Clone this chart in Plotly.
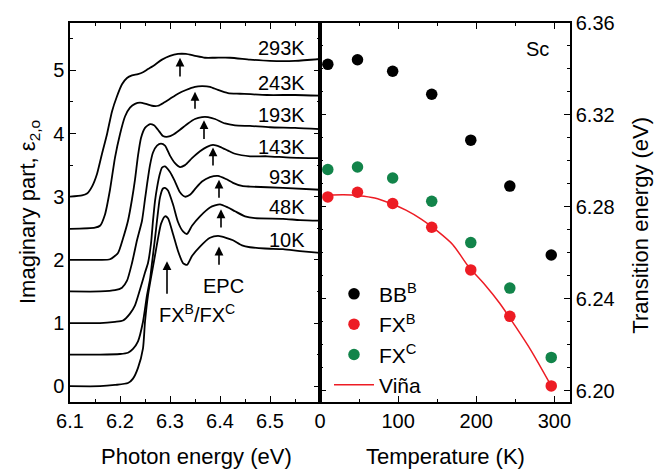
import plotly.graph_objects as go

# ---------------- left panel: eps2 spectra (offset by 0.5 per temperature) ----------------
temps = ["10K", "48K", "93K", "143K", "193K", "243K", "293K"]

e_10 = [6.100, 6.160, 6.190, 6.216, 6.226, 6.236, 6.246, 6.250, 6.256, 6.262, 6.268, 6.276, 6.282,
        6.290, 6.296, 6.306, 6.316, 6.326, 6.334, 6.344, 6.360, 6.380, 6.396, 6.412, 6.426, 6.444,
        6.460, 6.490, 6.526, 6.560, 6.600]
eps_10 = [0.00, 0.00, 0.02, 0.05, 0.12, 0.29, 0.60, 1.02, 1.44, 1.72, 1.98, 2.34, 2.57,
          2.69, 2.66, 2.41, 2.14, 1.95, 1.92, 2.06, 2.21, 2.35, 2.38, 2.35, 2.31, 2.23,
          2.20, 2.18, 2.17, 2.14, 2.11]

e_48 = [6.100, 6.160, 6.200, 6.216, 6.226, 6.236, 6.246, 6.254, 6.260, 6.264, 6.270, 6.274, 6.280,
        6.286, 6.290, 6.296, 6.306, 6.316, 6.326, 6.334, 6.344, 6.360, 6.380, 6.400, 6.416, 6.430,
        6.450, 6.470, 6.526, 6.560, 6.600]
eps_48 = [0.50, 0.50, 0.51, 0.53, 0.59, 0.71, 1.02, 1.44, 1.69, 1.95, 2.34, 2.62, 2.99,
          3.13, 3.14, 3.10, 2.88, 2.60, 2.45, 2.41, 2.54, 2.69, 2.83, 2.88, 2.83, 2.77,
          2.69, 2.66, 2.65, 2.63, 2.62]

e_93 = [6.100, 6.160, 6.190, 6.206, 6.220, 6.230, 6.240, 6.250, 6.256, 6.262, 6.266, 6.270, 6.274,
        6.280, 6.284, 6.290, 6.300, 6.310, 6.320, 6.330, 6.340, 6.352, 6.364, 6.380, 6.396, 6.412,
        6.426, 6.444, 6.460, 6.526, 6.600]
eps_93 = [1.00, 1.00, 1.02, 1.04, 1.15, 1.28, 1.53, 1.80, 1.95, 2.26, 2.62, 2.93, 3.14,
          3.37, 3.46, 3.48, 3.39, 3.24, 3.07, 3.00, 3.03, 3.14, 3.24, 3.31, 3.33, 3.28,
          3.22, 3.17, 3.16, 3.14, 3.11]

e_143 = [6.100, 6.160, 6.190, 6.204, 6.214, 6.224, 6.234, 6.244, 6.250, 6.254, 6.260, 6.266, 6.274,
         6.282, 6.290, 6.300, 6.310, 6.320, 6.330, 6.344, 6.360, 6.374, 6.386, 6.400, 6.416, 6.430,
         6.460, 6.494, 6.540, 6.600]
eps_143 = [1.50, 1.50, 1.52, 1.56, 1.67, 1.95, 2.31, 2.62, 2.96, 3.19, 3.50, 3.70, 3.81,
           3.84, 3.81, 3.65, 3.53, 3.47, 3.50, 3.61, 3.72, 3.79, 3.82, 3.79, 3.73, 3.68,
           3.64, 3.64, 3.62, 3.61]

e_193 = [6.100, 6.160, 6.180, 6.196, 6.206, 6.216, 6.224, 6.230, 6.236, 6.242, 6.250, 6.260, 6.268,
         6.276, 6.286, 6.296, 6.306, 6.320, 6.336, 6.350, 6.364, 6.376, 6.390, 6.410, 6.430, 6.460,
         6.500, 6.550, 6.600]
eps_193 = [2.00, 2.00, 2.01, 2.11, 2.34, 2.62, 2.96, 3.27, 3.65, 3.93, 4.09, 4.15, 4.13,
           4.06, 3.96, 3.95, 3.98, 4.06, 4.16, 4.23, 4.26, 4.26, 4.23, 4.16, 4.13, 4.12,
           4.10, 4.09, 4.07]

e_243 = [6.100, 6.150, 6.160, 6.170, 6.180, 6.190, 6.200, 6.210, 6.220, 6.230, 6.240, 6.252, 6.264,
         6.276, 6.288, 6.300, 6.316, 6.332, 6.350, 6.364, 6.380, 6.396, 6.416, 6.440, 6.494, 6.550,
         6.600]
eps_243 = [2.49, 2.51, 2.54, 2.72, 3.11, 3.62, 3.99, 4.27, 4.41, 4.47, 4.49, 4.47, 4.44,
           4.44, 4.49, 4.55, 4.63, 4.69, 4.74, 4.75, 4.74, 4.69, 4.64, 4.63, 4.61, 4.61,
           4.60]

e_293 = [6.100, 6.124, 6.134, 6.144, 6.154, 6.164, 6.174, 6.184, 6.194, 6.204, 6.214, 6.224, 6.236,
         6.246, 6.256, 6.270, 6.284, 6.300, 6.316, 6.332, 6.350, 6.370, 6.390, 6.420, 6.460, 6.500,
         6.550, 6.600]
eps_293 = [3.00, 3.02, 3.05, 3.16, 3.36, 3.68, 3.99, 4.35, 4.59, 4.78, 4.88, 4.92, 4.94,
           4.97, 5.02, 5.09, 5.17, 5.23, 5.26, 5.26, 5.23, 5.20, 5.20, 5.20, 5.17, 5.15,
           5.15, 5.18]

spectra_e = [e_10, e_48, e_93, e_143, e_193, e_243, e_293]
spectra_eps = [eps_10, eps_48, eps_93, eps_143, eps_193, eps_243, eps_293]

# temperature labels (anchor energy, height)
label_e = 6.574
label_eps = [2.31, 2.83, 3.31, 3.79, 4.30, 4.80, 5.36]

# EPC arrows: energy, tip, tail
epc_e = [6.398, 6.402, 6.398, 6.386, 6.368, 6.350, 6.320]
epc_tip = [2.21, 2.80, 3.27, 3.78, 4.21, 4.66, 5.20]
epc_tail = [1.90, 2.49, 2.96, 3.47, 3.89, 4.37, 4.88]

# FX arrow
fx_e, fx_tip, fx_tail = 6.294, 1.98, 1.44

# ---------------- right panel: transition energies ----------------
temperature = [10, 48, 93, 143, 193, 243, 296]
bb_b = [6.342, 6.344, 6.339, 6.329, 6.309, 6.289, 6.259]
fx_b = [6.2843, 6.2863, 6.2814, 6.2711, 6.2525, 6.2323, 6.2020]
fx_c = [6.2962, 6.2973, 6.2925, 6.2824, 6.2644, 6.2446, 6.2144]

vina_t = [10, 30, 50, 70, 90, 110, 130, 150, 170, 190, 210, 230, 250, 270, 296]
vina_e = [6.2850, 6.2852, 6.2848, 6.2838, 6.2815, 6.2785, 6.2745, 6.2695, 6.2635, 6.2540,
          6.2465, 6.2380, 6.2280, 6.2175, 6.2020]

FONT = "Liberation Sans, Arial, sans-serif"
RED = "#ED1C24"
GREEN = "#12844A"
TXT = 20

fig = go.Figure()

for e, eps in zip(spectra_e, spectra_eps):
    fig.add_trace(go.Scatter(x=e, y=eps, mode="lines", xaxis="x", yaxis="y",
                             line=dict(color="black", width=1.8, shape="spline", smoothing=0.6),
                             showlegend=False, hoverinfo="skip"))

fig.add_trace(go.Scatter(x=temperature, y=bb_b, mode="markers", name="BB<sup>B</sup>",
                         xaxis="x2", yaxis="y2", marker=dict(color="black", size=11.5)))
fig.add_trace(go.Scatter(x=temperature, y=fx_b, mode="markers", name="FX<sup>B</sup>",
                         xaxis="x2", yaxis="y2", marker=dict(color=RED, size=11.5)))
fig.add_trace(go.Scatter(x=temperature, y=fx_c, mode="markers", name="FX<sup>C</sup>",
                         xaxis="x2", yaxis="y2", marker=dict(color=GREEN, size=11.5)))
fig.add_trace(go.Scatter(x=vina_t, y=vina_e, mode="lines", name="Viña",
                         xaxis="x2", yaxis="y2",
                         line=dict(color=RED, width=1.5, shape="spline", smoothing=0.8)))

annotations = []
for t, ly in zip(temps, label_eps):
    annotations.append(dict(x=label_e, y=ly, xref="x", yref="y", text=t, showarrow=False,
                            xanchor="right", yanchor="middle", font=dict(size=TXT, family=FONT)))
for xe, tip, tail in zip(epc_e, epc_tip, epc_tail):
    annotations.append(dict(x=xe, y=tip, ax=xe, ay=tail, xref="x", yref="y", axref="x", ayref="y",
                            text="", showarrow=True, arrowhead=2, arrowsize=1.1, arrowwidth=1.6,
                            arrowcolor="black"))
annotations.append(dict(x=fx_e, y=fx_tip, ax=fx_e, ay=fx_tail, xref="x", yref="y", axref="x",
                        ayref="y", text="", showarrow=True, arrowhead=2, arrowsize=1.1,
                        arrowwidth=1.6, arrowcolor="black"))
annotations.append(dict(x=6.406, y=1.59, xref="x", yref="y", text="EPC", showarrow=False,
                        xanchor="center", yanchor="middle", font=dict(size=TXT, family=FONT)))
annotations.append(dict(x=6.354, y=1.15, xref="x", yref="y", text="FX<sup>B</sup>/FX<sup>C</sup>",
                        showarrow=False, xanchor="center", yanchor="middle",
                        font=dict(size=TXT, family=FONT)))
annotations.append(dict(x=279, y=6.3485, xref="x2", yref="y2", text="Sc", showarrow=False,
                        xanchor="center", yanchor="middle", font=dict(size=TXT, family=FONT)))

# axis titles, placed by pixel position and converted to paper coordinates below
titles = [
    (196, 458, "Photon energy (eV)", 0),
    (445, 458, "Temperature (K)", 0),
    (29, 208, "Imaginary part, ε<sub>2,o</sub>", -90),
    (641, 222, "Transition energy (eV)", -90),
]
L, R, T, B = 70, 86, 15, 72
PW, PH = 656 - L - R, 474 - T - B
for px, py, txt, ang in titles:
    annotations.append(dict(x=(px - L) / PW, y=(474 - B - py) / PH, xref="paper", yref="paper",
                            text=txt, showarrow=False, textangle=ang,
                            xanchor="center", yanchor="middle",
                            font=dict(size=22, family=FONT)))

axis_common = dict(showline=True, linecolor="black", linewidth=1.5, ticks="inside",
                   ticklen=6, tickwidth=1.3, tickcolor="black", mirror="allticks",
                   showgrid=False, zeroline=False,
                   tickfont=dict(size=TXT, family=FONT, color="black"))

fig.update_layout(
    width=656, height=474,
    margin=dict(l=L, r=R, t=T, b=B),
    paper_bgcolor="white", plot_bgcolor="white",
    font=dict(family=FONT, color="black"),
    xaxis=dict(domain=[0, 0.5], range=[6.1, 6.6], tickvals=[6.1, 6.2, 6.3, 6.4, 6.5],
               ticktext=["6.1", "6.2", "6.3", "6.4", "6.5"], anchor="y",
               minor=dict(dtick=0.05, tick0=6.1, ticks="inside", ticklen=3, tickcolor="black"),
               **axis_common),
    yaxis=dict(range=[-0.25, 5.75], tickvals=[0, 1, 2, 3, 4, 5], anchor="x",
               minor=dict(dtick=0.5, tick0=0, ticks="inside", ticklen=3, tickcolor="black"),
               **axis_common),
    xaxis2=dict(domain=[0.5, 1.0], range=[0, 320], tickvals=[0, 100, 200, 300], anchor="y2",
                minor=dict(dtick=50, tick0=0, ticks="inside", ticklen=3, tickcolor="black"),
                **axis_common),
    yaxis2=dict(range=[6.195, 6.36], tickvals=[6.20, 6.24, 6.28, 6.32, 6.36],
                ticktext=["6.20", "6.24", "6.28", "6.32", "6.36"], anchor="x2", side="right",
                minor=dict(dtick=0.01, tick0=6.20, ticks="inside", ticklen=3, tickcolor="black"),
                **axis_common),
    legend=dict(x=(329 - L) / PW, y=(474 - B - 271) / PH, xanchor="left", yanchor="top",
                bgcolor="rgba(0,0,0,0)", font=dict(size=21, family=FONT),
                tracegroupgap=0, itemwidth=40),
    annotations=annotations,
)

fig.write_html("out.html")
